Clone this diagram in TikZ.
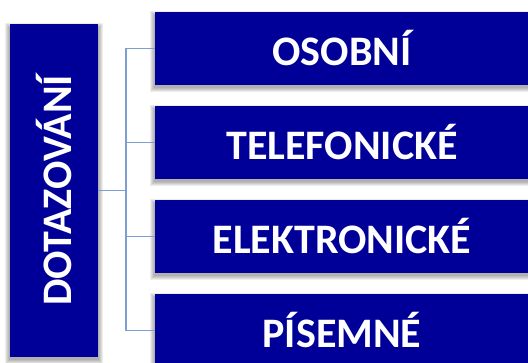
\documentclass[tikz,border=0pt]{standalone}
\usepackage{fontspec}
\setmainfont{Carlito}
\usetikzlibrary{backgrounds}
\definecolor{boxblue}{RGB}{0,0,153}
\definecolor{connblue}{RGB}{125,158,208}
\tikzset{
  x=1pt, y=1pt,
  catbox/.style={rectangle, fill=boxblue, text=white, inner sep=0pt,
    font=\fontsize{42}{42}\selectfont\bfseries},
  conn/.style={draw=connblue, line width=1.6pt},
}
% soft shadow: stacked translucent rectangles below a node
\newcommand{\softshadow}[1]{%
  \foreach \k in {0,...,4}{%
    \fill[black, opacity=0.07]
      ([xshift=-\k pt-1pt, yshift=-3pt-\k pt]#1.south west)
      rectangle ([xshift=\k pt+1pt, yshift=-3pt+\k pt]#1.north east);
  }%
}
\begin{document}
\begin{tikzpicture}
  \useasboundingbox (0,0) rectangle (528,-363);

  % main category, text rotated
  \node[catbox, minimum width=88pt, minimum height=333pt] (dot) at (54,-190.5)
    {\rotatebox{90}{DOTAZOVÁNÍ}};

  % the four kinds
  \node[catbox, minimum width=374pt, minimum height=72.5pt] (osobni) at (342,-48.5) {OSOBNÍ};
  \node[catbox, minimum width=374pt, minimum height=72.5pt] (telef) at (342,-142.5) {TELEFONICKÉ};
  \node[catbox, minimum width=374pt, minimum height=72.5pt] (elektr) at (342,-236.5) {ELEKTRONICKÉ};
  \node[catbox, minimum width=374pt, minimum height=72.5pt] (pisem) at (342,-330.5) {PÍSEMNÉ};

  \begin{scope}[on background layer]
    \softshadow{dot}
    \softshadow{osobni}
    \softshadow{telef}
    \softshadow{elektr}
    \softshadow{pisem}
  \end{scope}

  % tree connectors
  \coordinate (trunk) at (126,-190.5);
  \draw[conn] (dot.east) -- (trunk);
  \draw[conn] (osobni.west) -| (trunk) |- (pisem.west);
  \draw[conn] (telef.west) -- (trunk |- telef.west);
  \draw[conn] (elektr.west) -- (trunk |- elektr.west);
\end{tikzpicture}
\end{document}
